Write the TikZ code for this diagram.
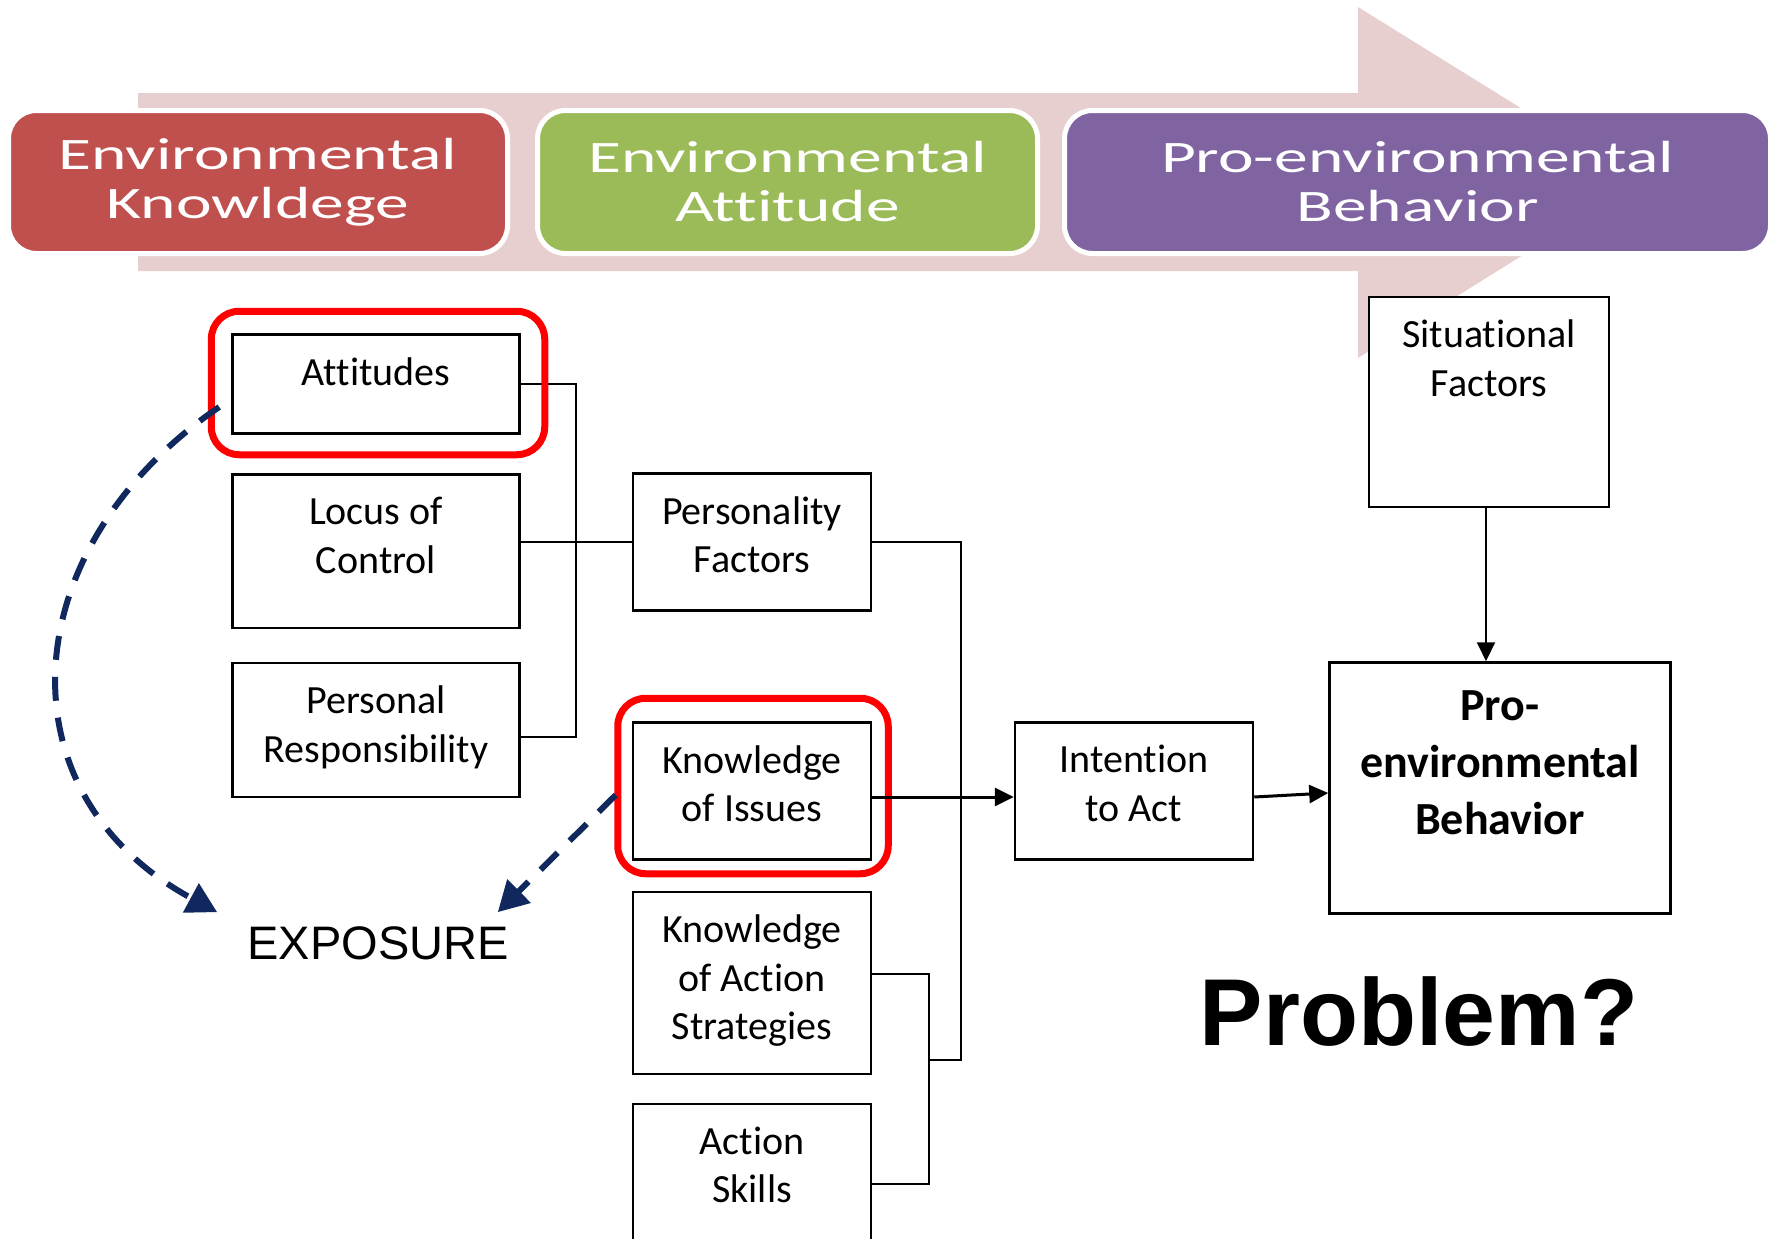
\documentclass[tikz,border=0pt]{standalone}
\usepackage{fontspec}
\setmainfont[Ligatures=NoCommon]{Carlito}
\newfontfamily\headfont[FakeStretch=1.5,Ligatures=NoCommon]{Carlito}
\newfontfamily\arialfont{Liberation Sans}
\usetikzlibrary{arrows.meta,positioning}

\definecolor{bandpink}{RGB}{232,207,207}
\definecolor{stagered}{RGB}{192,80,77}
\definecolor{stagegreen}{RGB}{155,187,89}
\definecolor{stagepurple}{RGB}{128,100,162}
\definecolor{exponavy}{RGB}{16,40,94}
\definecolor{markred}{RGB}{255,0,0}

\begin{document}
\begin{tikzpicture}[x=1pt,y=-1pt,
    stage/.style={draw=white, line width=5pt, rounded corners=28pt, text=white, align=center,
        font=\headfont\fontsize{45}{49}\selectfont, minimum height=143pt, inner sep=0pt},
    box/.style={draw, line width=2.5pt, fill=white, inner sep=0pt},
    boxlabel/.style={anchor=north, yshift=-24pt, align=center, inner sep=0pt,
        font=\fontsize{40}{48.5}\selectfont},
    link/.style={line width=2pt},
    arr/.style={line width=3pt, -{Triangle[length=19pt,width=18pt]}},
    highlight/.style={draw=markred, line width=7pt, rounded corners=28pt},
    expo/.style={draw=exponavy, line width=6pt, dash pattern=on 24pt off 17pt,
        -{Triangle[length=30pt,width=32pt]}},
]

    % Fix the size of the picture
    \useasboundingbox (0,0) rectangle (1770,1239);

    % Draw the big pale arrow behind the three stages
    \fill[bandpink] (138,93) -- (1358,93) -- (1358,7) -- (1640,182) -- (1358,358)
        -- (1358,271) -- (138,271) -- cycle;

    % Draw the three stages on the arrow
    \node[stage, fill=stagered, minimum width=499pt] (ek) at (258,182) {Environmental\\Knowldege};
    \node[stage, fill=stagegreen, minimum width=500pt] (ea) at (787.5,182) {Environmental\\Attitude};
    \node[stage, fill=stagepurple, minimum width=706pt] (pb) at (1417.5,182) {Pro-environmental\\Behavior};

    % Draw the boxes of the model
    \node[box, minimum width=287pt, minimum height=99pt, label={[boxlabel]north:Attitudes}] (att) at (376,384) {};
    \node[box, minimum width=287pt, minimum height=153.5pt, label={[boxlabel]north:{Locus of\\Control}}] (loc) at (376,551) {};
    \node[box, minimum width=287pt, minimum height=134pt, label={[boxlabel]north:{Personal\\Responsibility}}] (pr) at (376,730) {};
    \node[box, minimum width=238pt, minimum height=137pt, label={[boxlabel]north:{Personality\\Factors}}] (pf) at (752,542) {};
    \node[box, minimum width=238pt, minimum height=137pt, label={[boxlabel]north:{Knowledge\\of Issues}}] (koi) at (752,791) {};
    \node[box, minimum width=238pt, minimum height=182pt, label={[boxlabel]north:{Knowledge\\of Action\\Strategies}}] (koas) at (752,983) {};
    \node[box, minimum width=238pt, minimum height=182pt, label={[boxlabel]north:{Action\\Skills}}] (as) at (752,1195) {};
    \node[box, minimum width=238pt, minimum height=137pt, label={[boxlabel]north:{Intention\\to Act}}] (int) at (1134,791) {};
    \node[box, minimum width=240pt, minimum height=210pt, label={[boxlabel]north:{Situational\\Factors}}] (sit) at (1489,402) {};
    \node[box, minimum width=341pt, minimum height=251pt,
        label={[boxlabel, yshift=-5pt, font=\bfseries\fontsize{46}{57}\selectfont]north:{Pro-\\environmental\\Behavior}}] (peb) at (1500,788) {};

    % Label the two loose texts
    \node[inner sep=0pt, font=\arialfont\fontsize{47}{50}\selectfont] (exposure) at (378,943) {EXPOSURE};
    \node[inner sep=0pt, font=\arialfont\bfseries\fontsize{95}{100}\selectfont] (problem) at (1419,1012) {Problem?};

    % Join the personal factors into one bracket
    \coordinate (b1) at (576,737);
    \draw[link] (att.east) -| (b1) -- ([yshift=-7pt]pr.east);
    \draw[link] (loc.east |- pf.west) -- (pf.west);

    % Join the knowledge and skills into one bracket
    \coordinate (b2) at (929,1060);
    \draw[link] ([yshift=9pt]koas.east) -| (b2) |- ([yshift=11pt]as.east);
    \draw[link] (pf.east) -| (961,1060) -- (b2);

    % Mark the two boxes in red
    \draw[highlight] ([xshift=-20pt,yshift=22pt]att.north west) rectangle ([xshift=24pt,yshift=-20pt]att.south east);
    \draw[highlight] ([xshift=-14pt,yshift=23pt]koi.north west) rectangle ([xshift=16pt,yshift=-13pt]koi.south east);

    % Draw the arrows towards the behavior
    \draw[arr] ([yshift=-6pt]koi.east) -- ([yshift=-6pt]int.west);
    \draw[arr] ([yshift=-6pt]int.east) -- ([yshift=-5pt]peb.west);
    \draw[arr, line width=2pt] ([xshift=-3pt]sit.south) -- ([xshift=-3pt]sit.south |- peb.north);

    % Draw the dashed arrows down to EXPOSURE
    \draw[expo] ([xshift=-12pt,yshift=-23pt]att.west) .. controls (14,547) and (-3,793)
        .. ([xshift=-30pt,yshift=14pt]exposure.north west);
    \draw[expo] ([xshift=-16pt,yshift=-4pt]koi.west) -- ([xshift=-11pt,yshift=14pt]exposure.north east);

\end{tikzpicture}
\end{document}
